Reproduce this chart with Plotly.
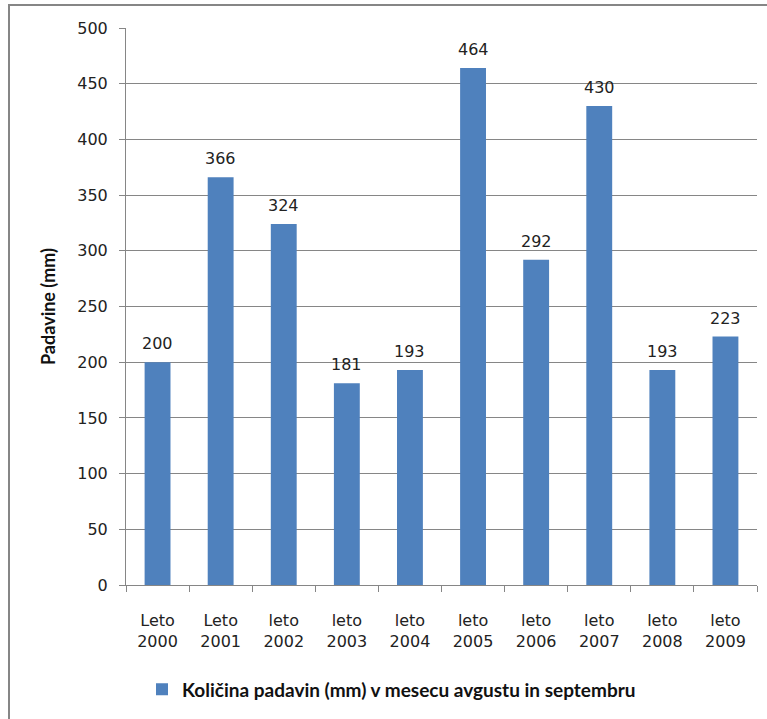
import plotly.graph_objects as go

# Rainfall totals (mm) for August + September, by year
categories = ["Leto<br>2000", "Leto<br>2001", "leto<br>2002", "leto<br>2003", "leto<br>2004",
              "leto<br>2005", "leto<br>2006", "leto<br>2007", "leto<br>2008", "leto<br>2009"]
rainfall = [200, 366, 324, 181, 193, 464, 292, 430, 193, 223]
y_ticks = [0, 50, 100, 150, 200, 250, 300, 350, 400, 450, 500]

series_name = "Količina padavin (mm) v mesecu avgustu in septembru"
bar_color = "#4F81BD"
grid_color = "#868686"
tick_font = dict(family="DejaVu Sans", size=16, color="#222222")
bold_font = dict(family="Lato", size=18, color="#111111", weight="bold")

fig = go.Figure()
fig.add_trace(go.Bar(
    x=categories,
    y=rainfall,
    name=series_name,
    marker=dict(color=bar_color, line=dict(width=0)),
    width=0.41,
))

# value labels above each bar
annotations = [
    dict(x=c, y=v, xref="x", yref="y", text=str(v), showarrow=False,
         yanchor="bottom", yshift=7, font=tick_font)
    for c, v in zip(categories, rainfall)
]

W, H = 767, 719
L, R, T, B = 126, 10, 28, 131
pw, ph = W - L - R, H - T - B

def px_x(x):
    return (x - L) / pw

def px_y(y):
    return (H - B - y) / ph

fig.update_layout(
    width=W, height=H,
    margin=dict(l=L, r=R, t=T, b=B),
    paper_bgcolor="white",
    plot_bgcolor="white",
    showlegend=True,
    annotations=annotations,
    legend=dict(
        orientation="h",
        x=px_x(142), y=px_y(693),
        xanchor="left", yanchor="middle",
        font=dict(family="Lato", size=19, color="#111111", weight="bold"),
        bgcolor="rgba(0,0,0,0)",
    ),
    xaxis=dict(
        type="category",
        showline=True, linecolor=grid_color, linewidth=1,
        ticks="outside", tickson="boundaries", ticklen=6, tickcolor=grid_color,
        tickfont=tick_font,
        ticklabelstandoff=21,
        showgrid=False,
    ),
    yaxis=dict(
        range=[0, 500],
        tickvals=y_ticks,
        showline=True, linecolor=grid_color, linewidth=1,
        ticks="outside", ticklen=6, tickcolor=grid_color,
        tickfont=tick_font,
        ticklabelstandoff=8,
        showgrid=True, gridcolor=grid_color, gridwidth=1,
        zeroline=False,
        title=dict(text="Padavine (mm)", font=bold_font, standoff=16),
    ),
    shapes=[dict(
        type="rect", xref="paper", yref="paper",
        x0=px_x(9), x1=px_x(775), y0=px_y(5), y1=px_y(730),
        line=dict(color="#868686", width=2),
        fillcolor="rgba(0,0,0,0)", layer="below",
    )],
)

fig.write_html("out.html")
